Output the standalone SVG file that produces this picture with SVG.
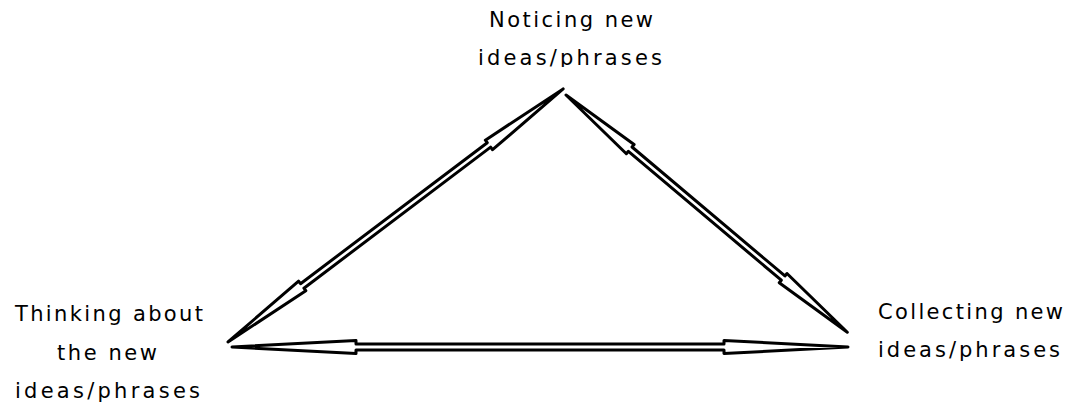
<svg xmlns="http://www.w3.org/2000/svg" width="1072" height="409" viewBox="0 0 1072 409">
<style>
.lbl{font-family:"DejaVu Sans","Open Sans",sans-serif;font-size:21px;fill:#000;}
.arr{fill:#fff;stroke:#000;stroke-width:3;stroke-linejoin:round;}
</style>
<defs>
<clipPath id="topclip"><rect x="440" y="0" width="260" height="67"/></clipPath>
</defs>
<rect width="1072" height="409" fill="#fff"/>
<g id="connectors">
<path class="arr" transform="translate(228,342) rotate(-37.06)" d="M0,0 L93,-6 L93,-2.8 L327,-2.8 L327,-6 L420,0 L327,6 L327,2.8 L93,2.8 L93,6 Z"/>
<path class="arr" transform="translate(566,95) rotate(40.14)" d="M0,0 L84,-6 L84,-2.8 L284,-2.8 L284,-6 L368,0 L284,6 L284,2.8 L84,2.8 L84,6 Z"/>
<path class="arr" transform="translate(232,347)" d="M0,0 L124,-6.5 L124,-3 L492,-3 L492,-6.5 L616,0 L492,6.5 L492,3 L124,3 L124,6.5 Z"/>
</g>
<g id="node-noticing" clip-path="url(#topclip)">
<text class="lbl" x="489" y="27" textLength="164" lengthAdjust="spacing">Noticing new</text>
<text class="lbl" x="478" y="65" textLength="184" lengthAdjust="spacing">ideas/phrases</text>
</g>
<g id="node-thinking">
<text class="lbl" x="15" y="321" textLength="188" lengthAdjust="spacing">Thinking about</text>
<text class="lbl" x="57" y="360" textLength="100" lengthAdjust="spacing">the new</text>
<text class="lbl" x="15" y="398" textLength="185" lengthAdjust="spacing">ideas/phrases</text>
</g>
<g id="node-collecting">
<text class="lbl" x="878" y="319" textLength="185" lengthAdjust="spacing">Collecting new</text>
<text class="lbl" x="878" y="357" textLength="182" lengthAdjust="spacing">ideas/phrases</text>
</g>
</svg>
